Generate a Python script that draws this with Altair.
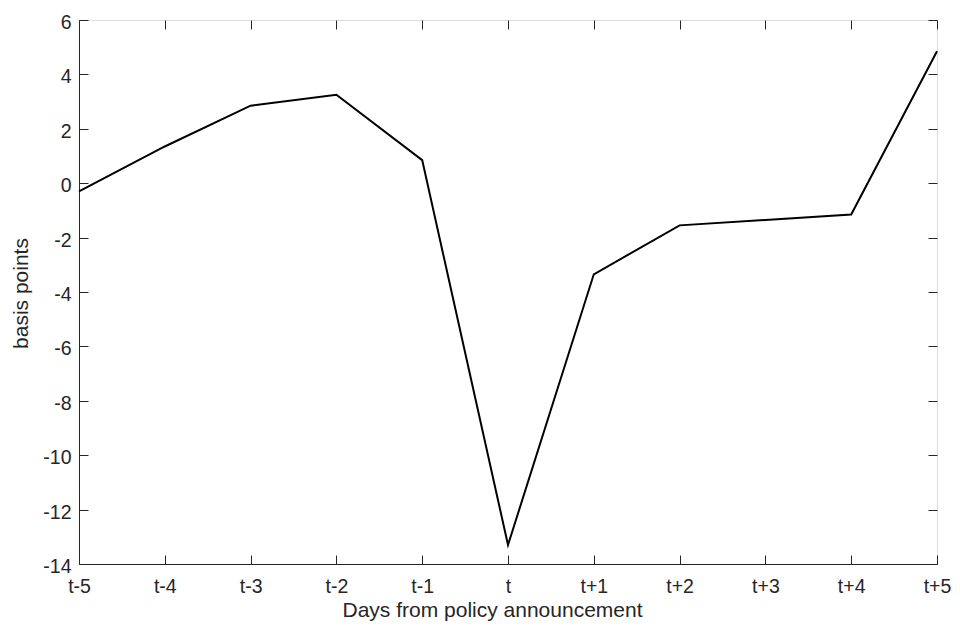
import altair as alt
import pandas as pd

days = ["t-5", "t-4", "t-3", "t-2", "t-1", "t", "t+1", "t+2", "t+3", "t+4", "t+5"]
bp = [-0.3, 1.35, 2.85, 3.25, 0.85, -13.3, -3.35, -1.55, -1.35, -1.15, 4.85]
y_ticks = list(range(-14, 7, 2))

df = pd.DataFrame({"day": days, "bp": bp})

W, H = 858, 544
AX = "#262626"
FONT = "Liberation Sans"

chart = alt.Chart(df).mark_line(color="black", strokeWidth=2).encode(
    x=alt.X(
        "day:N",
        sort=days,
        scale=alt.Scale(type="point", padding=0),
        axis=alt.Axis(
            title="Days from policy announcement",
            labelAngle=0,
            grid=True,
            gridDash=[9, H - 18, 9],
            gridColor=AX,
            gridWidth=1,
            gridOpacity=1,
            ticks=False,
            domainColor=AX,
            domainWidth=1,
            labelFont=FONT,
            labelFontSize=19.5,
            labelColor=AX,
            labelPadding=13.5,
            titleFont=FONT,
            titleFontSize=21,
            titleFontWeight="normal",
            titleColor=AX,
            titleBaseline="alphabetic",
            titleAlign="center",
            titleX=413,
            titleY=52,
        ),
    ),
    y=alt.Y(
        "bp:Q",
        scale=alt.Scale(domain=[-14, 6], nice=False, zero=False),
        axis=alt.Axis(
            title="basis points",
            values=y_ticks,
            labelExpr="datum.value < 0 ? '-' + abs(datum.value) : '' + datum.value",
            grid=True,
            gridDash=[9, W - 18, 9],
            gridColor=AX,
            gridWidth=1,
            gridOpacity=1,
            ticks=False,
            domainColor=AX,
            domainWidth=1,
            labelFont=FONT,
            labelFontSize=19.5,
            labelColor=AX,
            labelPadding=8,
            labelOffset=2.5,
            titleFont=FONT,
            titleFontSize=21,
            titleFontWeight="normal",
            titleColor=AX,
            titleBaseline="middle",
            titleAlign="center",
            titleAngle=-90,
            titleX=-58,
            titleY=273,
        ),
    ),
).properties(
    width=W,
    height=H,
    autosize=alt.AutoSizeParams(type="none"),
    padding={"left": 71, "top": 12, "right": 15, "bottom": 58},
).configure_view(
    stroke=AX, strokeWidth=1
).configure(background="white")

chart.save("out.html", embed_options={"renderer": "svg", "actions": False})
